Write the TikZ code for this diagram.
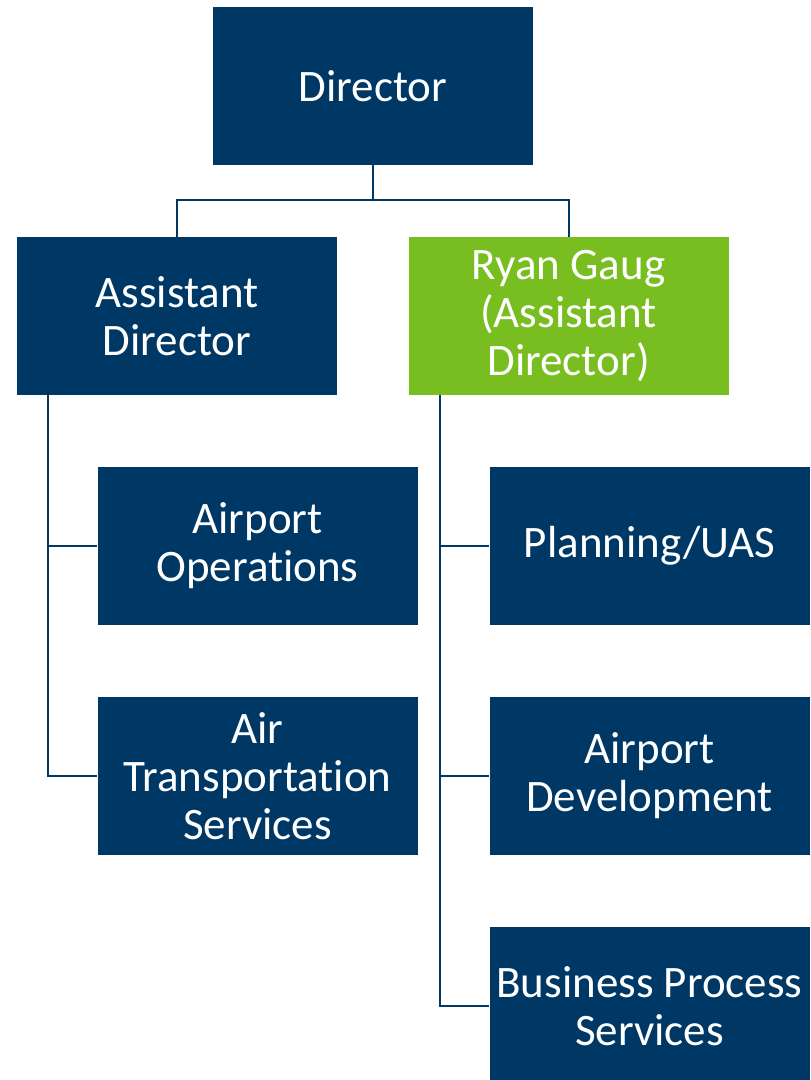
\documentclass[tikz,border=0pt]{standalone}
\usepackage{fontspec}
\setmainfont[Ligatures=NoCommon]{Carlito}
\usetikzlibrary{calc,positioning}
\definecolor{navy}{RGB}{0,56,101}
\definecolor{leaf}{RGB}{120,190,32}

\begin{document}
\begin{tikzpicture}[x=1pt,y=-1pt,%
        box/.style={fill=navy, text=white, minimum width=320pt, minimum height=158pt,
                    inner sep=0pt, align=center, font=\fontsize{45}{48}\selectfont},
        link/.style={draw=navy, line width=2pt}]

        \useasboundingbox (0,0) rectangle (811,1080);
        \clip (0,0) rectangle (811,1080);

        %% top
        \node [box] (director) at(373,86) {Director};
        %% second line
        \node [box] (asst_l) at(177,316) {Assistant\\Director};
        \node [box, fill=leaf] (asst_r) at($(asst_l)+(391.5,0)$) {Ryan Gaug\\(Assistant\\Director)};

        %% left column
        \node [box] (ops) at($(asst_l)+(80.5,230)$) {Airport\\Operations};
        \node [box] (ats) at($(ops)+(0,230)$) {Air\\Transportation\\Services};

        %% right column
        \node [box] (plan) at($(asst_r)+(81,230)$) {Planning/UAS};
        \node [box] (dev) at($(plan)+(0,230)$) {Airport\\Development};
        \node [box] (bps) at($(dev)+(0,230)$) {Business Process\\Services};

        %% connectors
        \coordinate (split) at($(director.south)+(0,35)$);
        \draw [link] (director.south) -- (split) -| (asst_l.north);
        \draw [link] (split) -| (asst_r.north);

        \coordinate (trunk_l) at($(asst_l.south west)+(31,0)$);
        \coordinate (trunk_r) at($(asst_r.south west)+(32,0)$);
        \foreach \n in {ops,ats} {
          \draw [link] (trunk_l) |- (\n.west);
        }
        \foreach \n in {plan,dev,bps} {
          \draw [link] (trunk_r) |- (\n.west);
        }

\end{tikzpicture}
\end{document}
